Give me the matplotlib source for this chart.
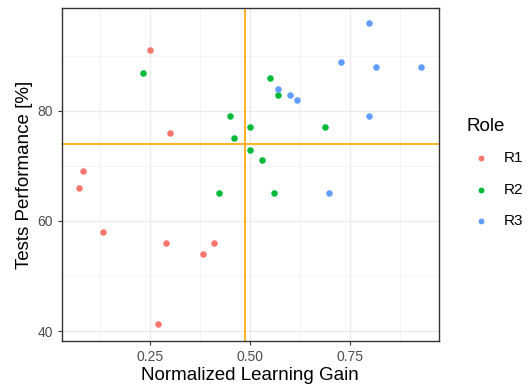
import matplotlib.pyplot as plt
from matplotlib.ticker import MultipleLocator

r1_gain = [0.249, 0.300, 0.082, 0.073, 0.131, 0.289, 0.411, 0.382, 0.270]
r1_perf = [91.0, 76.0, 69.0, 66.0, 58.0, 56.0, 56.0, 54.0, 41.2]
r2_gain = [0.231, 0.451, 0.501, 0.460, 0.500, 0.530, 0.549, 0.570, 0.688, 0.422, 0.559]
r2_perf = [86.9, 79.1, 77.0, 75.1, 72.9, 71.0, 86.0, 82.9, 77.0, 65.0, 65.0]
r3_gain = [0.798, 0.728, 0.816, 0.928, 0.570, 0.599, 0.618, 0.798, 0.698]
r3_perf = [96.0, 88.9, 87.9, 87.9, 83.9, 82.9, 82.0, 79.1, 65.0]
roles = ['R1', 'R2', 'R3']
colors = ['#F8766D', '#00BA38', '#619CFF']
mean_gain = 0.487
mean_perf = 73.9

plt.rcParams['font.family'] = ['Liberation Sans', 'DejaVu Sans']

fig = plt.figure(figsize=(5.28, 3.91), dpi=100)
ax = fig.add_axes([0.117, 0.128, 0.714, 0.852])

data = [(r1_gain, r1_perf), (r2_gain, r2_perf), (r3_gain, r3_perf)]
for (gx, gy), role, c in zip(data, roles, colors):
    ax.scatter(gx, gy, s=22, c=c, label=role, zorder=3, linewidths=0)

ax.axvline(mean_gain, color='orange', lw=1.2, zorder=2)
ax.axhline(mean_perf, color='orange', lw=1.2, zorder=2)

ax.set_xlim(0.029, 0.972)
ax.set_ylim(38.2, 98.7)
ax.xaxis.set_major_locator(MultipleLocator(0.25))
ax.xaxis.set_minor_locator(MultipleLocator(0.125))
ax.yaxis.set_major_locator(MultipleLocator(20))
ax.yaxis.set_minor_locator(MultipleLocator(10))
ax.set_xticks([0.25, 0.5, 0.75])
ax.set_xticklabels(['0.25', '0.50', '0.75'])
ax.grid(which='major', color='#EBEBEB', lw=1.0, zorder=0)
ax.grid(which='minor', color='#F2F2F2', lw=0.6, zorder=0)
ax.tick_params(which='minor', length=0)
ax.tick_params(which='major', length=3, color='#333333', labelcolor='#4D4D4D', labelsize=10)
for sp in ax.spines.values():
    sp.set_color('#333333')
    sp.set_linewidth(1.0)

ax.set_xlabel('Normalized Learning Gain', fontsize=13.5, labelpad=2)
ax.set_ylabel('Tests Performance [%]', fontsize=13.5, labelpad=3)

leg = fig.legend(loc='upper left', bbox_to_anchor=(0.872, 0.715), frameon=False,
                 title='Role', fontsize=11, title_fontsize=13.5, markerscale=0.9,
                 handlelength=1.96, handletextpad=0.46, labelspacing=1.15,
                 borderaxespad=0)
leg._legend_box.align = 'left'
leg._legend_box.sep = 12

fig.savefig('out.png', dpi=100)
